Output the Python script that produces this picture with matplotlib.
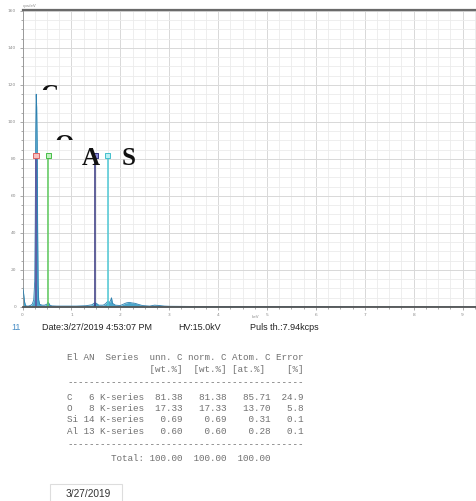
import matplotlib
matplotlib.use('Agg')
import matplotlib.pyplot as plt
from matplotlib.patches import Rectangle
import numpy as np

W, H, DPI = 477, 501, 100

# ---------------- data ----------------
energy_keV = [0.00, 0.02, 0.04, 0.06, 0.08, 0.12, 0.16, 0.20, 0.23, 0.25, 0.26,
              0.27, 0.28, 0.29, 0.30, 0.31, 0.32, 0.33, 0.35, 0.40, 0.45, 0.50,
              0.52, 0.54, 0.56, 0.60, 0.70, 0.90, 1.10, 1.30, 1.42, 1.46, 1.49,
              1.52, 1.56, 1.65, 1.70, 1.74, 1.78, 1.80, 1.82, 1.84, 1.90, 2.00,
              2.06, 2.12, 2.18, 2.24, 2.30, 2.36, 2.45, 2.60, 2.70, 2.80, 2.90,
              3.00, 3.50, 4.00, 5.00, 6.00, 7.00, 8.00, 9.30]
counts = [11.0, 8.0, 3.0, 1.0, 0.5, 0.5, 0.8, 1.5, 4.0, 14.0, 45.0,
          95.0, 115.0, 108.0, 88.0, 40.0, 12.0, 4.0, 1.5, 1.0, 1.0, 1.5,
          2.5, 2.0, 1.0, 0.6, 0.5, 0.5, 0.5, 0.7, 1.2, 2.0, 2.2,
          1.8, 1.0, 1.0, 1.8, 3.0, 2.5, 3.5, 5.0, 2.0, 1.0, 0.8,
          1.5, 2.2, 2.5, 2.2, 2.0, 1.5, 0.8, 0.5, 1.0, 0.8, 0.5,
          0.4, 0.3, 0.3, 0.2, 0.2, 0.1, 0.1, 0.1]

elements = ['C', 'O', 'Al', 'Si']
element_keV = [0.277, 0.525, 1.486, 1.740]
marker_level = 82
line_colors = ['#5e4f9c', '#5cc95c', '#34357f', '#4ec8d4']
marker_faces = ['#f6c0c0', '#c4f0c4', '#8a8ad8', '#bdf0f4']
marker_edges = ['#e06464', '#48bf48', '#34357f', '#44c0cc']
big_labels = ['C', 'O', 'A', 'S']

x_ticks = [0, 1, 2, 3, 4, 5, 6, 7, 8, 9]
y_ticks = [0, 20, 40, 60, 80, 100, 120, 140, 160]

table_el = ['C', 'O', 'Si', 'Al']
table_an = [6, 8, 14, 13]
table_series = ['K-series', 'K-series', 'K-series', 'K-series']
unn_wt = [81.38, 17.33, 0.69, 0.60]
norm_wt = [81.38, 17.33, 0.69, 0.60]
atom_at = [85.71, 13.70, 0.31, 0.28]
error_pct = [24.9, 5.8, 0.1, 0.1]
totals = [100.00, 100.00, 100.00]

date_text = 'Date:3/27/2019 4:53:07 PM'
hv_text = 'HV:15.0kV'
puls_text = 'Puls th.:7.94kcps'
footer_date = '3/27/2019'

# ---------------- helpers ----------------
def fx(x):
    return x / W

def fy(y):
    return 1 - y / H

fig = plt.figure(figsize=(W / DPI, H / DPI), dpi=DPI)
fig.patch.set_facecolor('white')

ax_l, ax_r, ax_t, ax_b = 22.5, 477, 10, 307
ax = fig.add_axes([fx(ax_l), fy(ax_b), fx(ax_r) - fx(ax_l), fy(ax_t) - fy(ax_b)])
ax.set_xlim(0, (ax_r - ax_l) / 48.9)
ax.set_ylim(0, 160.5)

ax.set_xticks(x_ticks)
ax.set_xticks(np.arange(0, 9.5, 0.25), minor=True)
ax.set_yticks(y_ticks)
ax.set_yticks(np.arange(0, 165, 5), minor=True)
ax.grid(which='minor', color='#ebebeb', lw=0.6)
ax.grid(which='major', color='#d8d8d8', lw=0.7)
ax.set_axisbelow(True)

ax.spines['right'].set_visible(False)
ax.spines['top'].set_color('#6a6a6a')
ax.spines['top'].set_linewidth(1.6)
ax.spines['bottom'].set_color('#555555')
ax.spines['bottom'].set_linewidth(1.3)
ax.spines['bottom'].set_zorder(6)
ax.spines['left'].set_color('#9a9a9a')
ax.spines['left'].set_linewidth(0.7)

ax.tick_params(which='both', direction='out', color='#888888', width=0.5)
ax.tick_params(which='major', length=2.5, labelsize=3.2, labelcolor='#8a8a8a', pad=2)
ax.tick_params(which='minor', length=1.5)

# spectrum
ax.fill_between(energy_keV, counts, color='#4ba7cc', lw=0, zorder=2)
ax.plot(energy_keV, counts, color='#2d80b0', lw=0.6, zorder=3)

# element lines and markers
ax.vlines(element_keV, 0, marker_level, colors=line_colors, lw=1.1, zorder=4)
ax.scatter(element_keV, [marker_level] * len(elements), marker='s', s=14,
           facecolors=marker_faces, edgecolors=marker_edges, linewidths=0.7, zorder=5)

# tiny axis captions
fig.text(fx(23), fy(6.5), 'cps/eV', fontsize=3, color='#8a8a8a', va='center', ha='left')
fig.text(fx(252), fy(317), 'keV', fontsize=3, color='#8a8a8a', va='center', ha='left')

# big (partly hidden) element labels
label_pos = [(41, 84, 90.0), (54.5, 134, 140.0), (82, 147, None), (122, 147, None)]
for txt, (lx, ly, clip_y) in zip(big_labels, label_pos):
    t = fig.text(fx(lx), fy(ly), txt, family='Liberation Serif', weight='bold',
                 fontsize=18, color='#111111', va='top', ha='left')
    if clip_y is not None:
        rect = Rectangle((0, fy(clip_y)), 1, 1 - fy(clip_y), transform=fig.transFigure,
                         facecolor='none', edgecolor='none')
        t.set_clip_path(rect)
        t.set_clip_on(True)

# info line
info_kw = dict(family='Liberation Sans', fontsize=6.5, color='#222222', va='center', ha='left')
fig.text(fx(11), fy(328), '11', **{**info_kw, 'color': '#4a8fc6'})
fig.text(fx(42.5), fy(328), date_text, **info_kw)
fig.text(fx(178.5), fy(328), hv_text, **info_kw)
fig.text(fx(250), fy(328), puls_text, **info_kw)

# results table (monospace)
header1 = 'El AN  Series  unn. C norm. C Atom. C Error'
header2 = ' ' * 15 + '[wt.%]  [wt.%] [at.%]    [%]'
dashes = '-' * 43
rows = [f"{e:<2} {a:>2} {s} {u:>6.2f} {n:>7.2f} {at:>7.2f} {er:>5.1f}"
        for e, a, s, u, n, at, er in zip(table_el, table_an, table_series,
                                         unn_wt, norm_wt, atom_at, error_pct)]
total_line = f"{'Total:':>14} {totals[0]:>6.2f} {totals[1]:>7.2f} {totals[2]:>7.2f}"

lines = [header1, header2, dashes] + rows + [dashes, total_line]
line_y = [357, 369.5, 383, 397, 408.5, 420, 431.5, 445, 458.5]
tab_kw = dict(family='Liberation Mono', fontsize=6.7, color='#707070', va='center', ha='left')
for txt, yy in zip(lines, line_y):
    fig.text(fx(67.5), fy(yy), txt, **tab_kw)

# footer date box
fig.patches.append(Rectangle((fx(50), fy(510)), fx(122) - fx(50), fy(484) - fy(510),
                             transform=fig.transFigure, facecolor='white',
                             edgecolor='#dddddd', lw=0.8))
fig.text(fx(66), fy(494), footer_date, family='Liberation Sans', fontsize=7.3,
         color='#333333', va='center', ha='left')

fig.savefig('out.png', dpi=DPI, facecolor='white')
